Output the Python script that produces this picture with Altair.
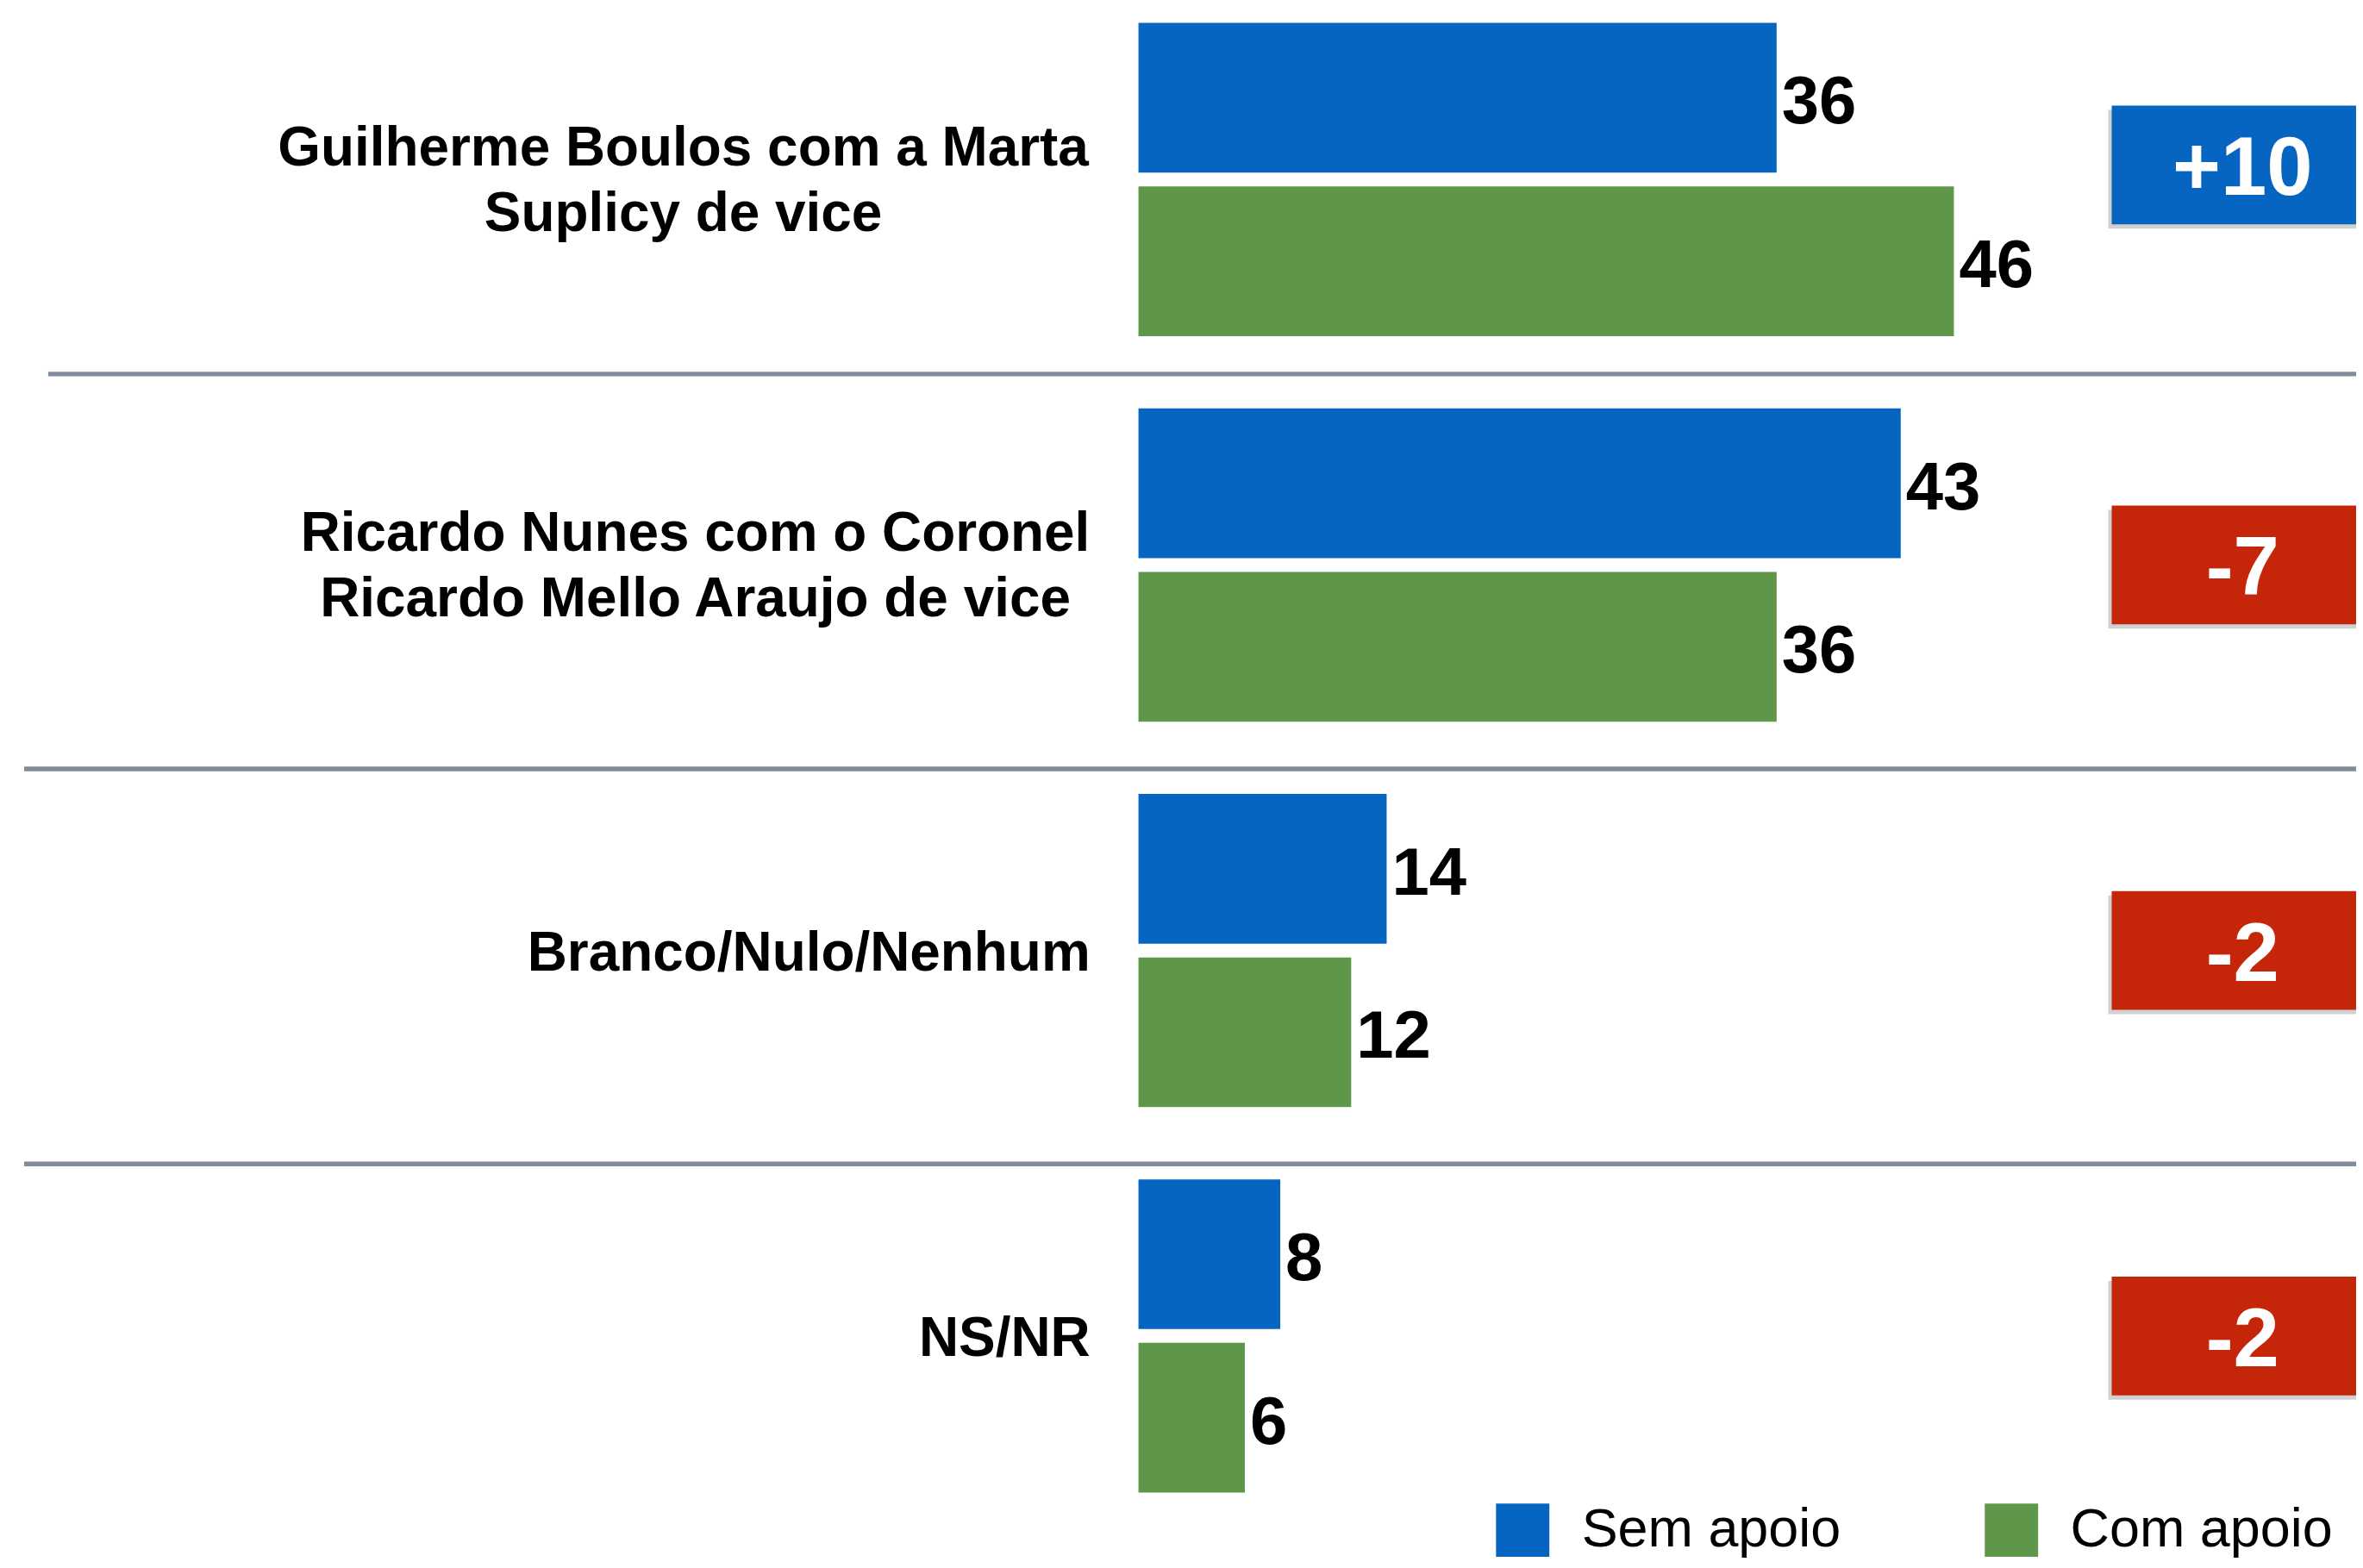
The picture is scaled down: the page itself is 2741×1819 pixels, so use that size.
import altair as alt
import pandas as pd

# ---------------- data ----------------
categories = [
    "Guilherme Boulos com a Marta Suplicy de vice",
    "Ricardo Nunes com o Coronel Ricardo Mello Araujo de vice",
    "Branco/Nulo/Nenhum",
    "NS/NR",
]
label_text = [
    "Guilherme Boulos com a Marta\nSuplicy de vice",
    "Ricardo Nunes com o Coronel\nRicardo Mello Araujo de vice",
    "Branco/Nulo/Nenhum",
    "NS/NR",
]
series_names = ["Sem apoio", "Com apoio"]
sem_apoio = [36, 43, 14, 8]
com_apoio = [46, 36, 12, 6]
diferenca = [10, -7, -2, -2]

# ---------------- style ----------------
BLUE = "#0565C0"
GREEN = "#5E974A"
RED = "#C52508"
SEP = "#808C9B"
FONT = "Liberation Sans"
W, H = 2730, 1803

rows = []
for c, s, g in zip(categories, sem_apoio, com_apoio):
    rows.append({"cat": c, "series": series_names[0], "value": s})
    rows.append({"cat": c, "series": series_names[1], "value": g})
bars_df = pd.DataFrame(rows)

cat_df = pd.DataFrame({
    "cat": categories,
    "label": label_text,
    "idx": list(range(len(categories))),
    "diff": diferenca,
    "diff_label": [f"{d:+d}" for d in diferenca],
})

x_scale = alt.Scale(domain=[0, 100], range=[1315, 1315 + 2060])
y_scale = alt.Scale(domain=categories, range=[-25, -25 + 448 * 4],
                    paddingInner=0, paddingOuter=0)
y_main = alt.Y("cat:N", scale=y_scale, axis=None)
y_off = alt.YOffset("series:N",
                    scale=alt.Scale(domain=series_names, paddingInner=0.0842, paddingOuter=0.221))

bars = alt.Chart(bars_df).mark_bar().encode(
    x=alt.X("value:Q", scale=x_scale, axis=None),
    y=y_main,
    yOffset=y_off,
    color=alt.Color(
        "series:N",
        scale=alt.Scale(domain=series_names, range=[BLUE, GREEN]),
        legend=alt.Legend(
            orient="none", legendX=1730, legendY=1737, direction="horizontal",
            title=None, symbolType="square", symbolSize=3844, symbolStrokeWidth=0,
            symbolOpacity=1, labelFontSize=63, labelFont=FONT, labelColor="black",
            labelOffset=37, columnPadding=166, padding=0, labelLimit=0,
        ),
    ),
)

values = alt.Chart(bars_df).mark_text(
    align="left", baseline="middle", dx=6, dy=7, fontSize=78,
    fontWeight="bold", font=FONT, color="black",
).encode(
    x=alt.X("value:Q", scale=x_scale, axis=None),
    y=y_main,
    yOffset=y_off,
    text="value:Q",
)


def label_layer(cond, align, xpos, dy):
    return alt.Chart(cat_df).transform_filter(cond).mark_text(
        align=align, baseline="middle", fontSize=64, fontWeight="bold", font=FONT,
        color="black", lineBreak="\n", lineHeight=76, dy=dy,
    ).encode(x=alt.value(xpos), y=y_main, text="label:N")


label_0 = label_layer("datum.idx == 0", "center", 786, -35)
label_1 = label_layer("datum.idx == 1", "center", 800, -35)
label_r = label_layer("datum.idx >= 2", "right", 1259, 4)


def box_layers(cond, shift):
    shadow = alt.Chart(cat_df).transform_filter(cond).mark_bar(
        height=138, xOffset=-4, yOffset=shift + 5, color="#000000", opacity=0.18,
    ).encode(x=alt.value(2446), x2=alt.value(W), y=y_main)
    box = alt.Chart(cat_df).transform_filter(cond).mark_bar(
        height=138, yOffset=shift,
    ).encode(
        x=alt.value(2446), x2=alt.value(W), y=y_main,
        color=alt.condition("datum.diff > 0", alt.value(BLUE), alt.value(RED)),
    )
    txt = alt.Chart(cat_df).transform_filter(cond).mark_text(
        align="center", baseline="middle", fontSize=96, fontWeight="bold",
        font=FONT, color="white", dy=6 + shift,
    ).encode(x=alt.value(2598), y=y_main, text="diff_label:N")
    return [shadow, box, txt]


box_first = box_layers("datum.idx == 0", -17)
box_rest = box_layers("datum.idx > 0", 0)

main = alt.layer(bars, values, label_0, label_1, label_r, *box_first, *box_rest)

sep_scale = alt.Scale(domain=categories, range=[-34, -34 + 459 * 4],
                      paddingInner=0, paddingOuter=0)
sep_df = pd.DataFrame({"cat": categories[1:], "idx": [1, 2, 3]})
sep_y = alt.Y("cat:N", scale=sep_scale, axis=None, bandPosition=0)
sep_first = alt.Chart(sep_df).transform_filter("datum.idx == 1").mark_rule(
    strokeWidth=5.5, color=SEP
).encode(x=alt.value(48), x2=alt.value(W), y=sep_y)
sep_rest = alt.Chart(sep_df).transform_filter("datum.idx > 1").mark_rule(
    strokeWidth=5.5, color=SEP
).encode(x=alt.value(20), x2=alt.value(W), y=sep_y)
seps = alt.layer(sep_first, sep_rest)

chart = alt.layer(main, seps).resolve_scale(y="independent").properties(
    width=W, height=H, padding=0, autosize=alt.AutoSizeParams(type="none"),
    view=alt.ViewBackground(stroke="transparent", strokeWidth=0),
).configure_view(stroke=None)

chart.save("out.html", embed_options={"renderer": "svg", "actions": False})
